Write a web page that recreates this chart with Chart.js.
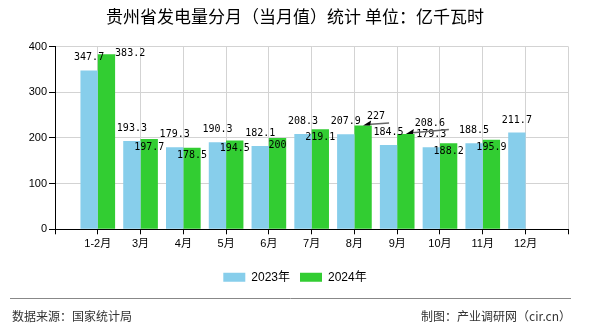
<!DOCTYPE html>
<html>
<head>
<meta charset="utf-8">
<script src="https://cdn.jsdelivr.net/npm/chart.js@4/dist/chart.umd.min.js"></script>
<style>
  html, body { margin: 0; padding: 0; background: #fff; }
  #wrap { width: 590px; height: 330px; position: relative; }
</style>
</head>
<body>
<div id="wrap"><canvas id="chart" width="590" height="330"></canvas></div>
<script>
// --- data ---
const months = ['1-2月', '3月', '4月', '5月', '6月', '7月', '8月', '9月', '10月', '11月', '12月'];
const values2023 = [347.7, 193.3, 179.3, 190.3, 182.1, 208.3, 207.9, 184.5, 179.3, 188.5, 211.7];
const values2024 = [383.2, 197.7, 178.5, 194.5, 200, 219.1, 227, 208.6, 188.2, 195.9];
const yTicks = [0, 100, 200, 300, 400];

// where each value label sits: 'above', 'inside', 'right', 'leader'
const place2023 = months.map(() => 'above');
const place2024 = ['right', 'inside', 'inside', 'inside', 'inside', 'inside', 'leader', 'leader', 'inside', 'inside'];

const CJK = "'Liberation Sans', 'Noto Sans CJK SC', sans-serif";

// empty slot on each side so ticks sit on the grid lines like the original
const labels = [''].concat(months, ['']);
const pad = arr => [null].concat(arr, new Array(labels.length - 1 - arr.length).fill(null));

const valueLabels = {
    id: 'valueLabels',
    afterDatasetsDraw(chart) {
        const ctx = chart.ctx;
        ctx.save();
        ctx.font = "10px 'DejaVu Sans Mono', monospace";
        ctx.fillStyle = '#000';
        ctx.textBaseline = 'middle';
        const leaderIdx = { 6: [26, -2.5, 13, -9], 7: [43, -4.5, 24, -11] };
        [place2023, place2024].forEach((places, di) => {
            const src = di === 0 ? values2023 : values2024;
            const meta = chart.getDatasetMeta(di);
            src.forEach((v, i) => {
                const bar = meta.data[i + 1];
                if (!bar) return;
                const p = places[i];
                const txt = String(v);
                if (p === 'above') {
                    ctx.textAlign = 'center';
                    ctx.fillText(txt, bar.x, bar.y - 12.5);
                } else if (p === 'inside') {
                    ctx.textAlign = 'center';
                    ctx.fillText(txt, bar.x, bar.y + 8);
                } else if (p === 'right') {
                    ctx.textAlign = 'left';
                    ctx.fillText(txt, bar.x + bar.width / 2, bar.y - 1);
                } else if (p === 'leader') {
                    const l = leaderIdx[i];
                    ctx.strokeStyle = '#666';
                    ctx.lineWidth = 1.5;
                    ctx.beginPath();
                    ctx.moveTo(bar.x + 4, bar.y - 1);
                    ctx.lineTo(bar.x + l[0], bar.y + l[1]);
                    ctx.stroke();
                    ctx.fillStyle = '#000';
                    ctx.beginPath();
                    ctx.moveTo(bar.x, bar.y);
                    ctx.lineTo(bar.x + 8, bar.y - 5);
                    ctx.lineTo(bar.x + 7, bar.y);
                    ctx.closePath();
                    ctx.fill();
                    ctx.textAlign = 'center';
                    ctx.fillText(txt, bar.x + l[2], bar.y + l[3]);
                }
            });
        });
        ctx.restore();
    }
};

const footer = {
    id: 'footer',
    afterDraw(chart) {
        const ctx = chart.ctx;
        ctx.save();
        ctx.strokeStyle = '#888';
        ctx.lineWidth = 1;
        ctx.beginPath();
        ctx.moveTo(10, 298.5);
        ctx.lineTo(571, 298.5);
        ctx.stroke();
        ctx.font = "12px 'Noto Sans CJK SC', sans-serif";
        ctx.fillStyle = '#333';
        ctx.textBaseline = 'middle';
        ctx.textAlign = 'left';
        ctx.fillText('数据来源：国家统计局', 12, 316.5);
        ctx.textAlign = 'right';
        ctx.fillText('制图：产业调研网（cir.cn）', 571, 316.5);
        ctx.restore();
    }
};

new Chart(document.getElementById('chart'), {
    type: 'bar',
    data: {
        labels: labels,
        datasets: [
            { label: '2023年', data: pad(values2023), backgroundColor: '#87CEEB' },
            { label: '2024年', data: pad(values2024), backgroundColor: '#32CD32' }
        ]
    },
    options: {
        responsive: false,
        animation: false,
        layout: { padding: { left: 0, right: 0, top: 0, bottom: 36.7 } },
        datasets: { bar: { categoryPercentage: 0.81, barPercentage: 1 } },
        plugins: {
            title: {
                display: true,
                text: '贵州省发电量分月（当月值）统计 单位：亿千瓦时',
                color: '#000',
                font: { family: "'Noto Sans CJK SC', sans-serif", size: 17, weight: 'normal' },
                padding: { top: 6.5, bottom: 19.6 }
            },
            legend: {
                position: 'bottom',
                labels: {
                    boxWidth: 22,
                    boxHeight: 9,
                    padding: 10,
                    color: '#000',
                    font: { family: CJK, size: 12 }
                }
            },
            tooltip: { enabled: false }
        },
        scales: {
            x: {
                offset: false,
                grid: { offset: false, color: '#d3d3d3', tickColor: '#000', tickLength: 5 },
                border: { color: '#000' },
                ticks: { autoSkip: false, maxRotation: 0, color: '#000', padding: 3, font: { family: CJK, size: 11 } },
                afterFit: s => { s.height = 32; }
            },
            y: {
                min: 0,
                max: 400,
                afterBuildTicks: s => { s.ticks = yTicks.map(v => ({ value: v })); },
                grid: { color: '#d3d3d3', tickColor: '#000', tickLength: 6 },
                border: { color: '#000' },
                ticks: { color: '#000', padding: 2, font: { family: CJK, size: 11 } },
                afterFit: s => { s.width = 55; }
            },
            yr: {
                position: 'right',
                grid: { display: false, drawTicks: false },
                border: { display: false },
                ticks: { display: false },
                afterFit: s => { s.width = 21.7; }
            }
        }
    },
    plugins: [valueLabels, footer]
});
</script>
</body>
</html>
